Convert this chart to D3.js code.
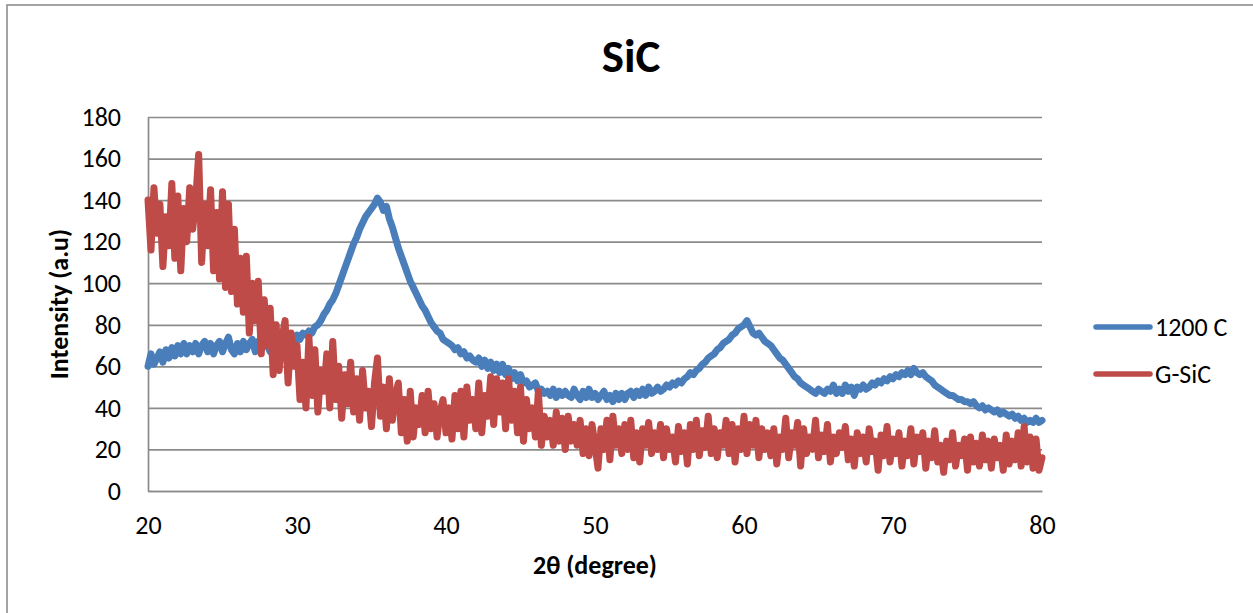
<!DOCTYPE html>
<html>
<head>
<meta charset="utf-8">
<script src="https://cdn.jsdelivr.net/npm/d3@7"></script>
<style>
  body { margin: 0; background: #fff; }
  svg { display: block; }
  text { font-family: Carlito, Calibri, Lato, "Open Sans", sans-serif; fill: #000; }
</style>
</head>
<body>
<svg id="chart" width="1253" height="613"></svg>
<script>
// 2θ scan: first angle and step (degrees)
const thetaStart = 20;
const thetaStep = 0.2;

// Intensity (a.u) of the 1200 C sample, one value per step from 20° to 80°
const series1200C = [
  60,66,61,64,67,62,68,64,69,65,
  70,66,71,66,70,67,71,66,70,72,
  67,71,66,70,72,67,71,74,68,66,
  71,67,72,68,71,73,67,72,68,75,
  70,67,72,68,73,69,74,70,75,71,
  75,73,76,75,77,76,79,80,82,85,
  87,90,92,95,99,103,107,111,115,119,
  122,126,129,132,134,136,138,141,139,135,
  137,131,127,122,117,113,109,105,101,98,
  95,92,89,87,84,81,79,77,76,73,
  72,71,70,68,69,66,67,64,65,63,
  62,64,60,63,59,62,58,61,57,61,
  56,59,54,57,53,56,52,53,50,51,
  52,48,49,47,48,46,49,45,48,46,
  48,46,45,49,46,44,48,45,49,45,
  47,44,46,48,44,46,43,47,44,47,
  44,47,48,45,48,46,49,46,50,47,
  48,50,48,49,51,50,52,51,53,52,
  54,55,57,56,58,59,61,62,64,65,
  66,68,69,71,72,73,75,76,78,79,
  80,82,79,76,75,76,74,72,71,70,
  68,66,64,63,61,59,57,55,54,52,
  51,50,49,48,47,49,48,47,49,48,
  51,47,49,47,51,48,50,46,50,49,
  51,49,50,52,51,53,52,54,53,55,
  54,56,55,57,56,58,56,59,57,56,
  57,55,54,53,51,50,49,48,47,46,
  46,45,44,44,43,43,42,43,41,40,
  41,39,40,39,38,39,37,38,37,36,
  37,35,36,34,35,33,34,33,35,33,
  34
];

// Intensity (a.u) of the G-SiC sample, same angles
const seriesGSiC = [
  140,116,146,124,138,108,132,118,148,112,
  142,106,136,120,146,126,140,162,110,138,
  118,145,106,134,102,144,98,138,96,126,
  90,112,86,113,76,100,82,101,66,92,
  70,88,56,80,58,74,82,52,76,60,
  70,44,62,40,74,46,68,38,58,48,
  66,40,72,44,60,35,56,42,62,38,
  54,34,58,40,48,31,52,64,36,50,
  30,54,34,46,52,28,44,24,48,26,
  40,32,46,28,48,30,42,26,38,44,
  28,40,25,46,30,48,26,50,34,44,
  30,52,28,46,36,55,32,54,38,52,
  30,54,34,48,28,50,24,44,30,40,
  26,48,22,36,26,34,22,38,24,35,
  20,36,24,32,22,34,18,30,17,32,
  22,11,30,20,34,15,36,22,30,18,
  32,20,34,16,28,14,30,22,33,18,
  28,20,32,16,30,20,26,14,31,19,
  28,13,32,20,34,17,29,21,36,18,
  30,16,28,22,34,18,32,14,30,20,
  36,18,32,22,34,16,30,20,28,17,
  30,13,26,20,35,16,28,22,33,12,
  30,18,26,20,34,16,27,19,32,14,
  26,18,28,21,31,15,25,12,28,18,
  26,14,30,19,24,10,27,17,31,14,
  25,18,28,12,24,17,30,13,26,19,
  28,11,24,16,29,14,22,9,24,15,
  28,12,22,17,25,10,26,14,23,12,
  27,15,24,11,25,16,22,10,27,13,
  24,15,28,12,31,14,26,11,25,10,
  16
];

const seriesNames = ["1200 C", "G-SiC"];
const seriesColors = ["#4A7EBB", "#BE4B48"];
const xTicks = [20, 30, 40, 50, 60, 70, 80];
const yTicks = [0, 20, 40, 60, 80, 100, 120, 140, 160, 180];

const chartTitle = "SiC";
const xTitle = "2θ (degree)";
const yTitle = "Intensity (a.u)";

// ---- layout ----
const svg = d3.select("#chart");
const plot = { left: 148, right: 1042, top: 117, bottom: 491 };
const gridColor = "#8b8b8b";
const labelSize = 26;
const fontStack = "Carlito, Calibri, Lato, 'Open Sans', sans-serif";

// chart-area frame
svg.append("rect")
  .attr("x", 7).attr("y", 5)
  .attr("width", 1270).attr("height", 640)
  .attr("fill", "#fff")
  .attr("stroke", "#8e8e8e")
  .attr("stroke-width", 1.6);

const x = d3.scaleLinear().domain([20, 80]).range([plot.left, plot.right]);
const y = d3.scaleLinear().domain([0, 180]).range([plot.bottom, plot.top]);

// value axis with horizontal gridlines
const yAxis = d3.axisLeft(y)
  .tickValues(yTicks)
  .tickSizeInner(-(plot.right - plot.left))
  .tickSizeOuter(0)
  .tickPadding(27);

const gy = svg.append("g")
  .attr("transform", `translate(${plot.left},0)`)
  .call(yAxis);
gy.selectAll(".tick line").attr("stroke", gridColor).attr("stroke-width", 1.7);
gy.select(".domain").attr("stroke", gridColor).attr("stroke-width", 1.7);

// category axis
const xAxis = d3.axisBottom(x)
  .tickValues(xTicks)
  .tickSize(0)
  .tickPadding(25);

const gx = svg.append("g")
  .attr("transform", `translate(0,${plot.bottom})`)
  .call(xAxis);
gx.select(".domain").attr("stroke", gridColor).attr("stroke-width", 1.7);

svg.selectAll(".tick text")
  .attr("font-size", labelSize)
  .attr("font-family", null)
  .attr("fill", "#000")
  .style("font-family", fontStack);

// data lines
const line = d3.line()
  .x((d, i) => x(thetaStart + i * thetaStep))
  .y(d => y(d));

[series1200C, seriesGSiC].forEach((values, k) => {
  svg.append("path")
    .datum(values)
    .attr("fill", "none")
    .attr("stroke", seriesColors[k])
    .attr("stroke-width", 7)
    .attr("stroke-linejoin", "round")
    .attr("stroke-linecap", "round")
    .attr("d", line);
});

// titles
svg.append("text")
  .attr("x", 631).attr("y", 72)
  .attr("text-anchor", "middle")
  .attr("font-size", 47)
  .attr("font-weight", "bold")
  .text(chartTitle);

svg.append("text")
  .attr("x", 595).attr("y", 574)
  .attr("text-anchor", "middle")
  .attr("font-size", labelSize)
  .attr("font-weight", "bold")
  .text(xTitle);

svg.append("text")
  .attr("transform", "translate(68,304) rotate(-90)")
  .attr("text-anchor", "middle")
  .attr("font-size", labelSize)
  .attr("font-weight", "bold")
  .text(yTitle);

// legend
const legend = svg.append("g");
seriesNames.forEach((name, k) => {
  const ly = 327 + k * 47;
  legend.append("line")
    .attr("x1", 1096).attr("x2", 1150)
    .attr("y1", ly).attr("y2", ly)
    .attr("stroke", seriesColors[k])
    .attr("stroke-width", 5.5)
    .attr("stroke-linecap", "round");
  legend.append("text")
    .attr("x", 1155).attr("y", ly)
    .attr("dy", "0.35em")
    .attr("font-size", labelSize)
    .text(name);
});
</script>
</body>
</html>
